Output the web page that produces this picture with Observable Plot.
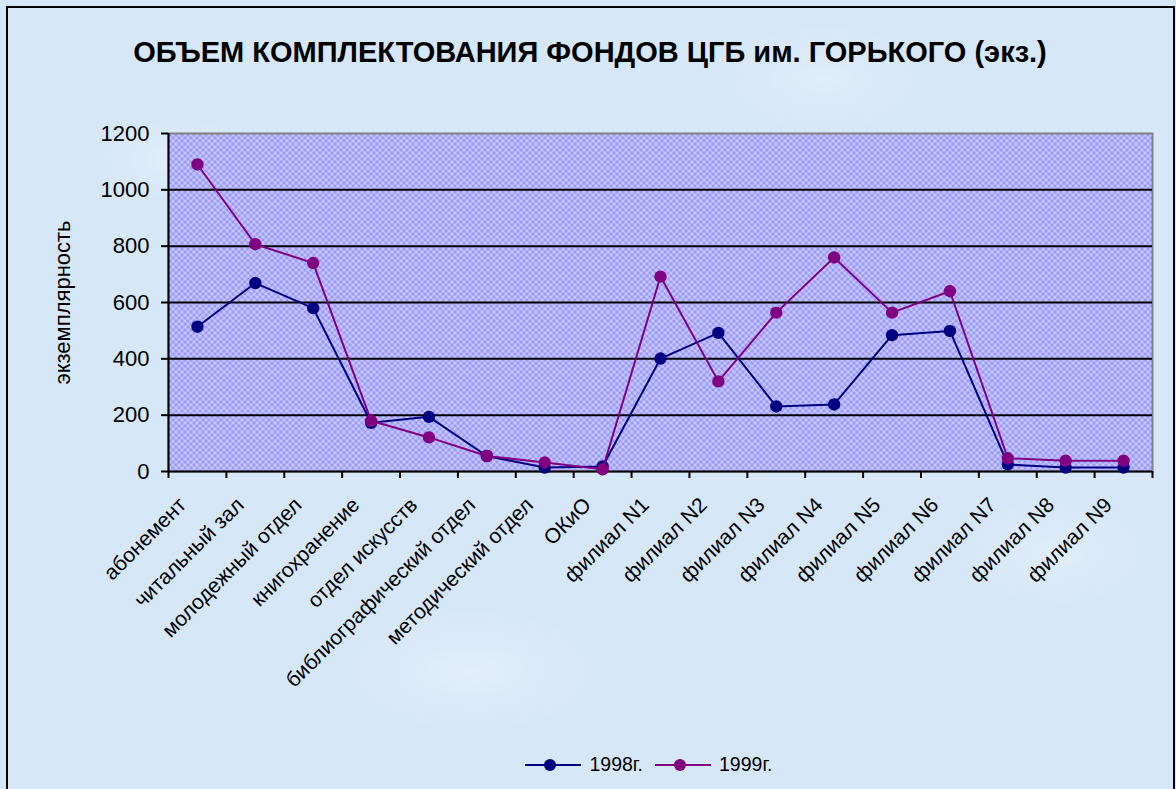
<!DOCTYPE html>
<html>
<head>
<meta charset="utf-8">
<script src="https://cdn.jsdelivr.net/npm/d3@7"></script>
<script src="https://cdn.jsdelivr.net/npm/@observablehq/plot@0.6"></script>
<style>
  html, body { margin: 0; padding: 0; }
  body { width: 1176px; height: 789px; overflow: hidden; }
  #wrap {
    position: relative; width: 1176px; height: 789px; overflow: hidden;
    font-family: "Liberation Sans", Arial, sans-serif; color: #000;
    background:
      radial-gradient(ellipse 120px 60px at 15% 20%, rgba(255,255,255,0.3), rgba(255,255,255,0) 70%),
      radial-gradient(ellipse 160px 80px at 70% 10%, rgba(255,255,255,0.25), rgba(255,255,255,0) 70%),
      radial-gradient(ellipse 200px 90px at 40% 85%, rgba(255,255,255,0.3), rgba(255,255,255,0) 70%),
      radial-gradient(ellipse 150px 80px at 90% 70%, rgba(255,255,255,0.25), rgba(255,255,255,0) 70%),
      #d6e7f8;
  }
  #frame { position: absolute; left: 6px; top: 6px; width: 1165px; height: 820px; border: 2px solid #000; pointer-events: none; }
  #title { position: relative; height: 100px; box-sizing: border-box; padding-top: 35px; text-align: center;
    font-weight: bold; font-size: 29px; line-height: 34px; white-space: nowrap; padding-left: 4px; }
  #chart { position: relative; height: 640px; }
  #chart svg { display: block; }
  #legend { position: relative; height: 49px; display: flex; justify-content: center; align-items: center;
    padding-left: 134px; box-sizing: border-box; font-size: 19.5px; }
  .item { display: flex; align-items: center; margin: 0 12px 0 0; }
  .item svg { margin-right: 8px; }
</style>
</head>
<body>
<svg width="0" height="0" style="position:absolute">
  <defs>
    <pattern id="checker" width="6" height="6" patternUnits="userSpaceOnUse">
      <rect width="6" height="6" fill="#9999ff"></rect>
      <rect width="3" height="3" fill="#c8c8ff"></rect>
      <rect x="3" y="3" width="3" height="3" fill="#c8c8ff"></rect>
    </pattern>
  </defs>
</svg>
<div id="wrap">
  <div id="frame"></div>
  <div id="title"></div>
  <div id="chart"></div>
  <div id="legend"></div>
</div>
<script>
const titleText = "ОБЪЕМ КОМПЛЕКТОВАНИЯ ФОНДОВ ЦГБ им. ГОРЬКОГО (экз.)";
const yLabel = "экземплярность";
const categories = [
  "абонемент", "читальный зал", "молодежный отдел", "книгохранение", "отдел искусств",
  "библиографический отдел", "методический отдел", "ОКиО",
  "филиал N1", "филиал N2", "филиал N3", "филиал N4", "филиал N5",
  "филиал N6", "филиал N7", "филиал N8", "филиал N9"
];
const values1998 = [514, 669, 580, 173, 194, 55, 14, 18, 401, 492, 231, 238, 484, 499, 25, 14, 14];
const values1999 = [1090, 807, 740, 180, 121, 55, 32, 8, 692, 320, 564, 760, 564, 640, 47, 38, 38];
const seriesNames = ["1998г.", "1999г."];
const seriesColors = ["#000080", "#800080"];
const yTicks = [0, 200, 400, 600, 800, 1000, 1200];
const gridTicks = [200, 400, 600, 800, 1000];

document.getElementById("title").textContent = titleText;

const series = [values1998, values1999].map((vals, s) =>
  categories.map((c, i) => ({cat: c, v: vals[i], year: seriesNames[s]}))
);

const W = 1176, H = 640, mL = 168, mR = 24, mT = 33, mB = 269;
const step = (W - mL - mR) / categories.length;

const seriesMarks = series.flatMap((d, s) => [
  Plot.line(d, {x: "cat", y: "v", stroke: seriesColors[s], strokeWidth: 2}),
  Plot.dot(d, {x: "cat", y: "v", fill: seriesColors[s], r: 6.2})
]);

const chart = Plot.plot({
  width: W, height: H,
  marginLeft: mL, marginRight: mR, marginTop: mT, marginBottom: mB,
  style: {background: "transparent", fontFamily: "'Liberation Sans', Arial, sans-serif", color: "#000", overflow: "visible"},
  x: {type: "point", domain: categories, padding: 0.5, round: false},
  y: {domain: [0, 1200]},
  marks: [
    Plot.frame({fill: "url(#checker)", stroke: "#808080", strokeWidth: 2}),
    Plot.ruleY(gridTicks, {stroke: "#000", strokeWidth: 2}),
    Plot.ruleY([0], {stroke: "#000", strokeWidth: 2}),
    Plot.ruleX([categories[0]], {y1: 0, y2: 1200, dx: -step / 2, stroke: "#000", strokeWidth: 2}),
    Plot.axisY({ticks: yTicks, tickSize: 7, tickPadding: 12, fontSize: 22, tickFormat: d => String(d), label: null, strokeWidth: 2}),
    Plot.axisX({tickSize: 7, tickFormat: () => "", dx: -step / 2, strokeWidth: 2, label: null}),
    Plot.axisX({ticks: [categories[categories.length - 1]], tickSize: 7, tickFormat: () => "", dx: step / 2, strokeWidth: 2, label: null}),
    Plot.axisX({tickSize: 0, tickRotate: -45, fontSize: 21, tickPadding: 30, dx: -15, label: null}),
    ...seriesMarks,
    Plot.text([yLabel], {frameAnchor: "left", textAnchor: "middle", rotate: -90, dx: -106, fontSize: 22})
  ]
});
document.getElementById("chart").appendChild(chart);

const legend = document.getElementById("legend");
seriesNames.forEach((name, i) => {
  const item = document.createElement("div");
  item.className = "item";
  item.innerHTML = `<svg width="56" height="14"><line x1="0" y1="7" x2="56" y2="7" stroke="${seriesColors[i]}" stroke-width="2"></line><circle cx="25" cy="7" r="6" fill="${seriesColors[i]}"></circle></svg><span>${name}</span>`;
  legend.appendChild(item);
});
</script>
</body>
</html>
